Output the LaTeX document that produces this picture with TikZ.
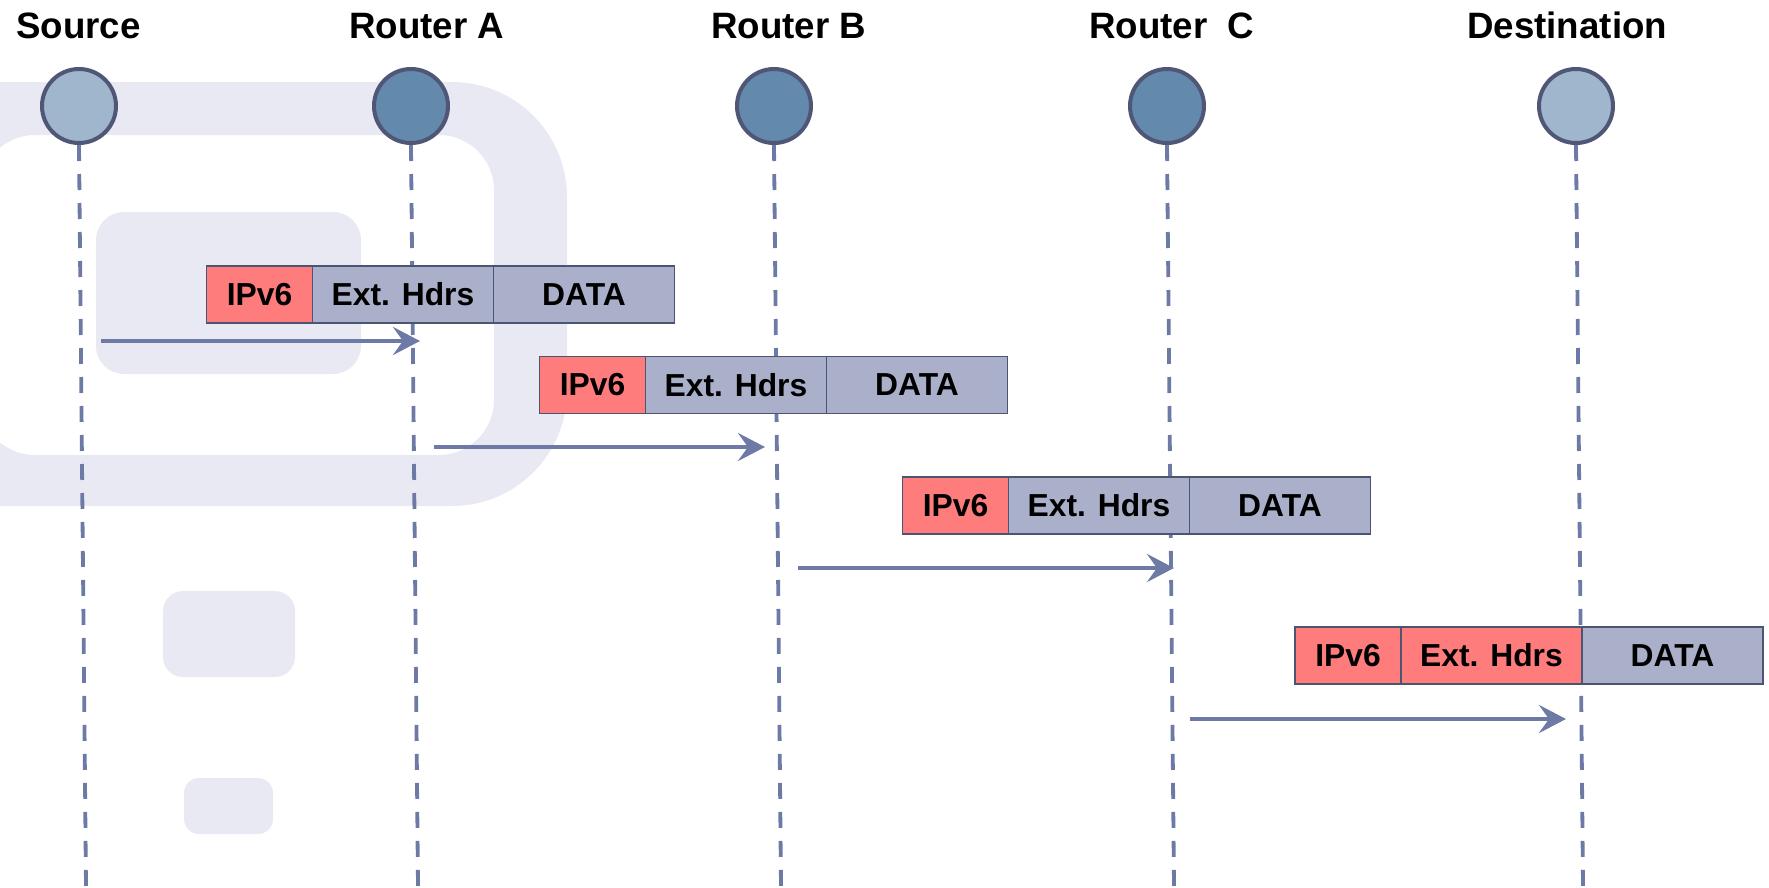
\documentclass[tikz,border=0pt]{standalone}
\usepackage{fontspec}
\setmainfont{Liberation Sans}
\usetikzlibrary{arrows.meta}

\definecolor{wmark}{RGB}{233,233,244}
\definecolor{hostfill}{RGB}{160,182,204}
\definecolor{routerfill}{RGB}{99,137,173}
\definecolor{rim}{RGB}{80,86,118}
\definecolor{lifecol}{RGB}{110,122,166}
\definecolor{hdrred}{RGB}{255,124,124}
\definecolor{cellgray}{RGB}{170,176,202}
\definecolor{cellrim}{RGB}{76,84,115}

\tikzset{
  title/.style={anchor=base west, inner sep=0pt, font=\fontsize{36.7}{40}\selectfont\bfseries},
  station/.style={circle, draw=rim, line width=4pt, minimum size=74pt, inner sep=0pt},
  host/.style={station, fill=hostfill},
  router/.style={station, fill=routerfill},
  life/.style={draw=lifecol, line width=3.8pt, dash pattern=on 16pt off 13pt},
  hop/.style={draw=lifecol, line width=4.6pt, -{Stealth[length=27pt,width=28pt,inset=10pt]}},
  cell/.style={draw=cellrim, line width=1.6pt, fill=cellgray, anchor=north west,
    minimum height=57pt, inner sep=0pt, outer sep=0pt,
    font=\fontsize{31.8}{34}\selectfont\bfseries},
  ipcell/.style={cell, fill=hdrred, minimum width=106pt},
  extcell/.style={cell, minimum width=181pt},
  datacell/.style={cell, minimum width=181pt},
}

% one packet: prefix, left x, top y, fill of the extension headers cell
\newcommand{\packetrow}[4]{%
  \node[ipcell] (#1ip) at (#2,#3) {IPv6};
  \node[extcell, fill=#4] (#1ext) at (#1ip.north east) {Ext. Hdrs};
  \node[datacell] (#1data) at (#1ext.north east) {DATA};
}

\begin{document}
\begin{tikzpicture}[x=1pt,y=-1pt]
\useasboundingbox (0,0) rectangle (1769,887);

% watermark in the background
\fill[wmark, even odd rule]
  [rounded corners=115pt] (-260,82) rectangle (567,506)
  [rounded corners=55pt] (-20,135) rectangle (494,455);
\fill[wmark, rounded corners=28pt] (96,212) rectangle (361,374);
\fill[wmark, rounded corners=20pt] (163,591) rectangle (295,677);
\fill[wmark, rounded corners=15pt] (184,778) rectangle (273,834);

% titles
\node[title] (tsrc) at (16,38) {Source};
\node[title] (ta) at (349,38) {Router A};
\node[title] (tb) at (711,38) {Router B};
\node[title] (tc) at (1089,38) {Router~~C};
\node[title] (tdst) at (1467,38) {Destination};

% stations
\node[host] (src) at (79,106) {};
\node[router] (ra) at (411,106) {};
\node[router] (rb) at (774,106) {};
\node[router] (rc) at (1167,106) {};
\node[host] (dst) at (1576,106) {};

% lower ends of the lifelines
\coordinate (srcend) at (86,887);
\coordinate (raend) at (418,887);
\coordinate (rbend) at (781,887);
\coordinate (rcend) at (1174,887);
\coordinate (dstend) at (1583,887);

\draw[life] (src.south) -- (srcend);
\draw[life] (ra.south) -- (raend);
\draw[life] (rb.south) -- (rbend);
\draw[life] (rc.south) -- (rcend);
\draw[life] (dst.south) -- (dstend);

% hop arrows
\coordinate (h1s) at (101,341);  \coordinate (h1e) at (420,341);
\coordinate (h2s) at (434,447);  \coordinate (h2e) at (765,447);
\coordinate (h3s) at (798,568);  \coordinate (h3e) at (1174,568);
\coordinate (h4s) at (1190,719); \coordinate (h4e) at (1566,719);

\draw[hop] (h1s) -- (h1e);
\draw[hop] (h2s) -- (h2e);
\draw[hop] (h3s) -- (h3e);
\draw[hop] (h4s) -- (h4e);

% packets
\packetrow{p1}{206.5}{266}{cellgray}
\packetrow{p2}{539.5}{356.5}{cellgray}
\packetrow{p3}{902.5}{477}{cellgray}
\packetrow{p4}{1295}{627}{hdrred}

\end{tikzpicture}
\end{document}
